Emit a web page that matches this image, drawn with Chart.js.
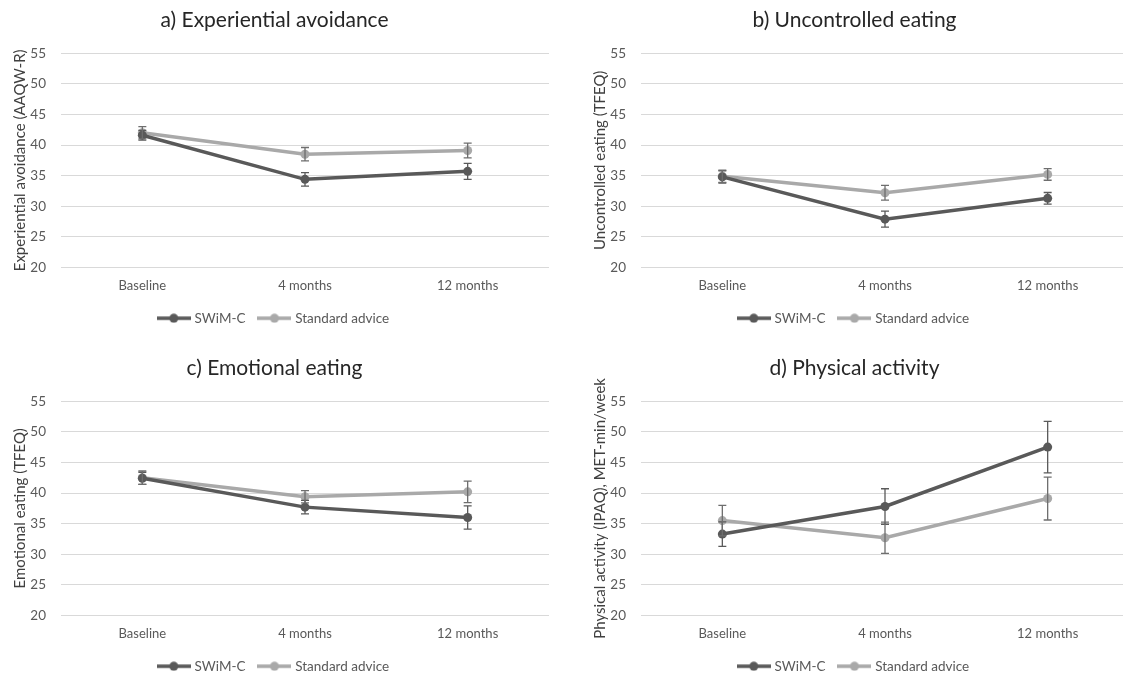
<!DOCTYPE html>
<html>
<head>
<meta charset="utf-8">
<script src="https://cdn.jsdelivr.net/npm/chart.js@4.4.1/dist/chart.umd.min.js"></script>
<style>
  html, body { margin: 0; padding: 0; background: #fff; }
  body { width: 1123px; height: 673px; overflow: hidden; position: relative; }
  .panel { position: absolute; width: 580px; height: 348px; }
</style>
</head>
<body>
<div class="panel" style="left:0;top:0"><canvas id="chartA"></canvas></div>
<div class="panel" style="left:580px;top:0"><canvas id="chartB"></canvas></div>
<div class="panel" style="left:0;top:348px"><canvas id="chartC"></canvas></div>
<div class="panel" style="left:580px;top:348px"><canvas id="chartD"></canvas></div>
<script>
const timepoints = ['Baseline', '4 months', '12 months'];
const seriesNames = ['SWiM-C', 'Standard advice'];
const yTicks = [20, 25, 30, 35, 40, 45, 50, 55];

// a) Experiential avoidance
const avoidSwim = [41.6, 34.4, 35.7];
const avoidSwimErr = [0.8, 1.1, 1.3];
const avoidStd = [42.0, 38.5, 39.1];
const avoidStdErr = [1.0, 1.1, 1.2];

// b) Uncontrolled eating
const uncSwim = [34.8, 27.9, 31.3];
const uncSwimErr = [1.0, 1.3, 0.95];
const uncStd = [34.9, 32.2, 35.2];
const uncStdErr = [1.0, 1.2, 0.95];

// c) Emotional eating
const emoSwim = [42.4, 37.7, 36.0];
const emoSwimErr = [1.0, 1.1, 1.9];
const emoStd = [42.5, 39.4, 40.2];
const emoStdErr = [1.1, 1.0, 1.75];

// d) Physical activity
const paSwim = [33.3, 37.8, 47.5];
const paSwimErr = [2.0, 2.9, 4.2];
const paStd = [35.5, 32.7, 39.1];
const paStdErr = [2.5, 2.55, 3.5];

const darkGrey = '#595959';
const lightGrey = '#a9a9a9';
const fontFamily = 'Lato, "Liberation Sans", sans-serif';

// legend symbol: short line with a dot in the middle
function legendSymbol(color) {
  const c = document.createElement('canvas');
  c.width = 34; c.height = 10;
  const g = c.getContext('2d');
  g.strokeStyle = color; g.lineWidth = 3.5;
  g.beginPath(); g.moveTo(0, 5); g.lineTo(34, 5); g.stroke();
  g.fillStyle = color;
  g.beginPath(); g.arc(17, 5, 4.5, 0, Math.PI * 2); g.fill();
  return c;
}

const errorBars = {
  id: 'errorBars',
  afterDatasetsDraw(chart) {
    const ctx = chart.ctx;
    const yScale = chart.scales.y;
    chart.data.datasets.forEach((ds, i) => {
      const meta = chart.getDatasetMeta(i);
      ctx.save();
      ctx.strokeStyle = ds.errColor;
      ctx.lineWidth = 1.3;
      meta.data.forEach((pt, j) => {
        const v = ds.data[j], e = ds.errors[j];
        const yTop = yScale.getPixelForValue(v + e);
        const yBot = yScale.getPixelForValue(v - e);
        const x = pt.x;
        ctx.beginPath();
        ctx.moveTo(x, yTop); ctx.lineTo(x, yBot);
        ctx.moveTo(x - 4, yTop); ctx.lineTo(x + 4, yTop);
        ctx.moveTo(x - 4, yBot); ctx.lineTo(x + 4, yBot);
        ctx.stroke();
      });
      ctx.restore();
    });
  }
};

function makeChart(id, title, yLabel, swim, swimErr, std, stdErr) {
  new Chart(document.getElementById(id), {
    type: 'line',
    data: {
      labels: timepoints,
      datasets: [
        {
          label: seriesNames[0], data: swim, errors: swimErr, errColor: '#5a5a5a',
          borderColor: darkGrey, backgroundColor: darkGrey, borderWidth: 3.5,
          pointRadius: 4.5, pointHoverRadius: 4.5, pointBorderWidth: 0, tension: 0,
          legendImg: legendSymbol(darkGrey)
        },
        {
          label: seriesNames[1], data: std, errors: stdErr, errColor: '#6e6e6e',
          borderColor: lightGrey, backgroundColor: lightGrey, borderWidth: 3.5,
          pointRadius: 4.5, pointHoverRadius: 4.5, pointBorderWidth: 0, tension: 0,
          legendImg: legendSymbol(lightGrey)
        }
      ]
    },
    options: {
      responsive: false,
      animation: false,
      maintainAspectRatio: false,
      layout: { padding: { left: 0, right: 31, top: 0, bottom: 13 } },
      plugins: {
        title: {
          display: true, text: title, color: '#262626',
          font: { family: fontFamily, size: 21, weight: 'normal' },
          padding: { top: 8, bottom: 20 }
        },
        legend: {
          position: 'bottom',
          labels: {
            usePointStyle: true, pointStyleWidth: 28, padding: 15,
            color: '#595959', font: { family: fontFamily, size: 13.5 },
            generateLabels(chart) {
              const items = Chart.defaults.plugins.legend.labels.generateLabels(chart);
              items.forEach(it => { it.pointStyle = chart.data.datasets[it.datasetIndex].legendImg; });
              return items;
            }
          }
        },
        tooltip: { enabled: false }
      },
      scales: {
        x: {
          offset: true,
          grid: { display: false, drawTicks: false },
          border: { display: false },
          ticks: { color: '#595959', padding: 11, font: { family: fontFamily, size: 13 } },
          afterFit(scale) { scale.height = 29; }
        },
        y: {
          min: yTicks[0], max: yTicks[yTicks.length - 1],
          afterBuildTicks(scale) { scale.ticks = yTicks.map(v => ({ value: v })); },
          grid: { color: '#d9d9d9', lineWidth: 1, drawTicks: false },
          border: { display: false },
          ticks: { color: '#595959', padding: 15, font: { family: fontFamily, size: 13.5 } },
          title: {
            display: true, text: yLabel, color: '#404040',
            font: { family: fontFamily, size: 15 }, padding: { top: 11, bottom: 0 }
          },
          afterFit(scale) { scale.width = 61; }
        }
      }
    },
    plugins: [errorBars]
  });
}

function sizeCanvases() {
  ['chartA', 'chartB', 'chartC', 'chartD'].forEach(id => {
    const c = document.getElementById(id);
    c.width = 580; c.height = 348;
    c.style.width = '580px'; c.style.height = '348px';
  });
}
sizeCanvases();

makeChart('chartA', 'a) Experiential avoidance', 'Experiential avoidance (AAQW-R)', avoidSwim, avoidSwimErr, avoidStd, avoidStdErr);
makeChart('chartB', 'b) Uncontrolled eating', 'Uncontrolled eating (TFEQ)', uncSwim, uncSwimErr, uncStd, uncStdErr);
makeChart('chartC', 'c) Emotional eating', 'Emotional eating (TFEQ)', emoSwim, emoSwimErr, emoStd, emoStdErr);
makeChart('chartD', 'd) Physical activity', 'Physical activity (IPAQ), MET-min/week', paSwim, paSwimErr, paStd, paStdErr);
</script>
</body>
</html>
